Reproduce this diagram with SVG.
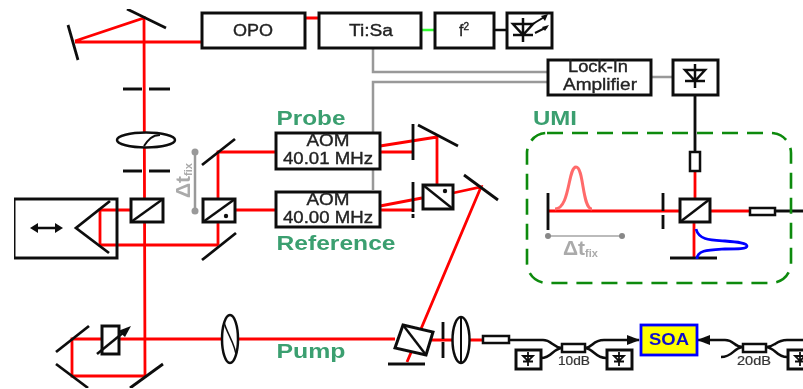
<svg xmlns="http://www.w3.org/2000/svg" width="803" height="389" viewBox="0 0 803 389">
<style>
text{font-family:"Liberation Sans",Arial,sans-serif;text-anchor:middle}
.box{fill:#fff;stroke:#111;stroke-width:3}
.thin{fill:#fff;stroke:#111;stroke-width:2.5}
.m{stroke:#111;stroke-width:2.800;fill:none}
.r{stroke:#f00;stroke-width:2.800;fill:none}
.g{stroke:#999;stroke-width:2.500;fill:none}
.f{stroke:#111;stroke-width:2.500;fill:none}
.lab{fill:#222;font-size:16px;stroke:#222;stroke-width:.35px}
.tag{fill:#3a9f6f;font-size:20px;font-weight:bold}
.dt{fill:#aaa;font-size:21px;font-weight:bold}
.dts{fill:#aaa;font-size:11px;font-weight:bold}
.tiny{fill:#333;font-size:12px;stroke:#333;stroke-width:.2px}
</style>
<defs>
<filter id="soft" x="0" y="0" width="100%" height="100%"><feGaussianBlur stdDeviation="0.6"/></filter>
<g id="diode"><path d="M0-13V11M-10-7H10L0 4ZM-10 4H10" stroke="#111" stroke-width="2.500" fill="none"/></g>
<g id="sdiode"><path d="M0-7V7M-5-3H5L0 2ZM-5 2.500H5" stroke="#111" stroke-width="1.800" fill="none"/></g>
<marker id="ah" markerWidth="13" markerHeight="10" refX="12" refY="5" orient="auto" markerUnits="userSpaceOnUse"><path d="M0 0L13 5L0 10Z" fill="#111"/></marker>
</defs>
<rect width="803" height="389" fill="#fff"/>
<g filter="url(#soft)">
<g id="connectors">
<path class="g" d="M373 48V72H548M373 190V82H548M651 77H672"/>
<path class="r" d="M75 41L144 18L145 376H72V339H118M75 42H202M305 18H319"/>
<path d="M421 30H435" stroke="#3f3" stroke-width="2.500"/>
<path d="M494 30H506" stroke="#111" stroke-width="2.500"/>
<path class="r" d="M130 210H100V245H218M218 245V152H276M235 210H276"/>
<path class="r" d="M118 339H395M426 340H483"/>
<path class="r" d="M380 146L437 137V184M380 152H413M380 206L422 198M380 210H413M453 193L481 187L407 362"/>
<path class="r" d="M548 211H679M710 211H750M695 171V198M694 222V258"/>
<path d="M695 95V152M775 211H803" stroke="#111" stroke-width="2.800" fill="none"/>
<path class="f" d="M509 340H543C552 340 552 347 562 348M541 358C552 358 552 349 562 348M585 348C594 347 592 340 604 340H639" marker-end="url(#ah)"/>
<path class="f" d="M585 348C594 349 595 358 606 358"/>
<path class="f" d="M725 340H712H698" marker-end="url(#ah)"/>
<path class="f" d="M725 340C735 340 733 347 743 347M721 357C733 357 733 348 743 347M766 347C776 347 775 340 787 340H803M766 347C776 348 776 357 787 357"/>
</g>
<g id="mirrors">
<path class="m" d="M127 9L166 28M68 25L78 60M123 89H142M149 89H170M123 171H142M149 171H170"/>
<path class="m" d="M202 165L235 139M202 260L236 233M56 352L89 326M56 364L88 388M130 388L163 364"/>
<path class="m" d="M418 125L458 146M464 175L498 200M413 124V160M413 182V212M413 214V218M388 364H425"/>
<path class="m" d="M443 322V339M443 342V358M548 193V230M663 193V211M663 215V229M670 258H717"/>
</g>
<g id="lens1"><ellipse cx="146" cy="140" rx="29" ry="7.500" fill="#fff" stroke="#111" stroke-width="2.500"/><path d="M144 146C148 140 152 135 160 135" stroke="#111" stroke-width="2" fill="none"/></g>
<g id="lens2"><ellipse cx="230" cy="339" rx="8" ry="24" fill="#fff" stroke="#111" stroke-width="2.500"/><path d="M224 322C226 332 236 345 236 356" stroke="#111" stroke-width="1.500" fill="none"/></g>
<g id="lens3"><ellipse cx="461" cy="340" rx="8.500" ry="23" fill="#fff" stroke="#111" stroke-width="2.500"/><path d="M461 318V362" stroke="#111" stroke-width="2"/></g>
<g id="opo"><rect class="box" x="202" y="13" width="103" height="35"/><text class="lab" x="253" y="36" textLength="40" lengthAdjust="spacingAndGlyphs">OPO</text></g>
<g id="tisa"><rect class="box" x="319" y="13" width="102" height="35"/><text class="lab" x="371" y="36" textLength="44" lengthAdjust="spacingAndGlyphs">Ti:Sa</text></g>
<g id="f2"><rect class="box" x="435" y="13" width="59" height="35"/><text class="lab" x="464" y="36">f<tspan font-size="10" dy="-6">2</tspan></text></g>
<g id="laser"><rect class="box" x="507" y="13" width="45" height="35"/><use href="#diode" x="523" y="31"/><path d="M531 25L546 16M535 33L547 27" stroke="#111" stroke-width="2" fill="none"/><path d="M548 14L541 16L545 21ZM549 25L542 27L545 31Z" fill="#111"/></g>
<g id="lockin"><rect class="box" x="548" y="60" width="103" height="35"/><text class="lab" x="598" y="72" textLength="60" lengthAdjust="spacingAndGlyphs">Lock-In</text><text class="lab" x="600" y="90" textLength="74" lengthAdjust="spacingAndGlyphs">Amplifier</text></g>
<g id="det"><rect class="box" x="673" y="60" width="45" height="35"/><use href="#diode" x="695" y="77"/></g>
<g id="aom1"><rect class="box" x="276" y="133" width="104" height="36"/><text class="lab" x="328" y="146" textLength="43" lengthAdjust="spacingAndGlyphs">AOM</text><text class="lab" x="328" y="164" textLength="90" lengthAdjust="spacingAndGlyphs">40.01 MHz</text></g>
<g id="aom2"><rect class="box" x="276" y="192" width="104" height="35"/><text class="lab" x="328" y="205" textLength="43" lengthAdjust="spacingAndGlyphs">AOM</text><text class="lab" x="328" y="223" textLength="90" lengthAdjust="spacingAndGlyphs">40.00 MHz</text></g>
<g id="labels">
<text class="tag" x="311" y="125" textLength="69" lengthAdjust="spacingAndGlyphs">Probe</text>
<text class="tag" x="336" y="250" textLength="119" lengthAdjust="spacingAndGlyphs">Reference</text>
<text class="tag" x="311" y="358" textLength="69" lengthAdjust="spacingAndGlyphs">Pump</text>
<text class="tag" x="555" y="125" textLength="44" lengthAdjust="spacingAndGlyphs">UMI</text>
</g>
<g id="delay1"><path class="g" d="M195 153V211"/><circle cx="195" cy="152" r="3.500" fill="#999"/><circle cx="195" cy="211" r="3.500" fill="#999"/><text class="dt" transform="translate(190 198) rotate(-90)" style="text-anchor:start">Δt<tspan class="dts" dy="2">fix</tspan></text></g>
<g id="retro"><rect x="14" y="199" width="103" height="59" fill="none" stroke="#111" stroke-width="3"/><path class="m" d="M110 201L76 228L109 253"/><path d="M33 228H60" stroke="#111" stroke-width="2.500"/><path d="M30 228L38 223V233ZM63 228L55 223V233Z" fill="#111"/></g>
<g id="bs1"><rect class="box" x="131" y="199" width="32" height="23"/><path d="M131 222L163 199" stroke="#111" stroke-width="2.500"/></g>
<g id="bs2"><rect class="box" x="203" y="199" width="32" height="23"/><path d="M203 222L235 199" stroke="#111" stroke-width="2.500"/><circle cx="226" cy="216" r="2.200" fill="#111"/></g>
<g id="attenuator"><rect class="box" x="102" y="326" width="17" height="28"/><path d="M97 354L124 332" stroke="#111" stroke-width="2.500"/><path d="M131 326L118 331L125 337Z" fill="#111"/></g>
<g id="bs3"><rect class="box" x="423" y="185" width="30" height="24"/><path d="M423 185L453 209" stroke="#111" stroke-width="2.500"/><circle cx="445" cy="191" r="2.200" fill="#111"/></g>
<g id="bs4"><path d="M403 325L433 332L426 355L395 348Z" fill="#fff" stroke="#111" stroke-width="3"/><path d="M403 325L426 355" stroke="#111" stroke-width="2.500"/></g>
<g id="umi">
<rect x="527" y="133" width="264" height="150" rx="20" fill="none" stroke="#0a8a0a" stroke-width="2.600" stroke-dasharray="16 9"/>
<path d="M555 209C570 209 568 167 576 167C584 167 582 209 592 209" stroke="#ff6b6b" stroke-width="3" fill="none"/>
<path d="M696 229C699 240 710 240 725 241C738 242 747 243 747 246C747 249 738 249 725 249C708 250 697 250 697 259" stroke="#00f" stroke-width="2.800" fill="none"/>
<path d="M550 236H624" stroke="#bbb" stroke-width="2"/><circle cx="548" cy="236" r="3" fill="#888"/><circle cx="622" cy="236" r="3" fill="#888"/>
<text class="dt" x="563" y="255" style="text-anchor:start">Δt<tspan class="dts" dy="2">fix</tspan></text>
<rect class="thin" x="690" y="152" width="10" height="19"/>
<rect class="box" x="680" y="199" width="30" height="23"/><path d="M680 222L710 199" stroke="#111" stroke-width="2.500"/>
<rect class="thin" x="750" y="208" width="25" height="7"/>
</g>
<g id="fibre">
<rect class="thin" x="483" y="336" width="26" height="7"/>
<rect class="thin" x="562" y="344" width="23" height="8"/>
<rect class="thin" x="743" y="344" width="23" height="8"/>
<text class="tiny" x="574" y="365" textLength="32" lengthAdjust="spacingAndGlyphs">10dB</text>
<text class="tiny" x="754" y="365" textLength="34" lengthAdjust="spacingAndGlyphs">20dB</text>
</g>
<g id="d1"><rect class="box" x="516" y="350" width="25" height="19"/><use href="#sdiode" x="528" y="359"/></g>
<g id="d2"><rect class="box" x="607" y="350" width="25" height="19"/><use href="#sdiode" x="619" y="359"/></g>
<g id="d3"><rect class="box" x="788" y="350" width="25" height="19"/><use href="#sdiode" x="800" y="359"/></g>
<g id="soa"><rect x="641" y="325" width="56" height="30" fill="#ff0" stroke="#00f" stroke-width="2.800"/><text x="669" y="345" fill="#11c" font-size="16" font-weight="bold" textLength="40" lengthAdjust="spacingAndGlyphs">SOA</text></g>
</g>
</svg>
